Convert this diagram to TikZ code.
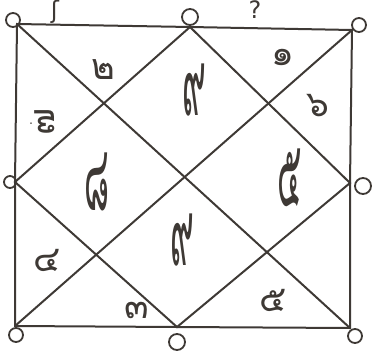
\documentclass[tikz,border=0pt]{standalone}
\usepackage{fontspec}
\newfontfamily\thaifont[Script=Thai]{Loma}
\newfontfamily\symfont{DejaVu Sans}
\definecolor{ink}{HTML}{3E3935}
\begin{document}
\begin{tikzpicture}[x=1pt,y=-1pt,
  edge/.style={draw=ink,line width=2pt,line cap=round},
  ring/.style={circle,draw=ink,line width=1.8pt,inner sep=0pt,minimum size=#1},
  digit/.style={text=ink,font=\thaifont\fontsize{36}{36}\selectfont,inner sep=0pt},
  tall/.style={text=ink,font=\thaifont\fontsize{36}{36}\selectfont,inner sep=0pt},
  topmark/.style={text=ink,font=\symfont\fontsize{24}{24}\selectfont,inner sep=0pt}]
\useasboundingbox (0,0) rectangle (374,353);
% vertices
\coordinate (TL) at (17,24);
\coordinate (TM) at (190,27);
\coordinate (TR) at (352,30);
\coordinate (LM) at (15,182);
\coordinate (RM) at (350,183);
\coordinate (BL) at (15,326);
\coordinate (BM) at (177,327);
\coordinate (BR) at (350,328);
% frame
\draw[edge] (TL) -- (TM) -- (TR) -- (RM) -- (BR) -- (BM) -- (BL) -- (LM) -- cycle;
% diagonals
\draw[edge] (TL) -- (BR);
\draw[edge] (TR) -- (BL);
% inner diamond
\draw[edge] (TM) -- (RM) -- (BM) -- (LM) -- cycle;
% rings
\node[ring=14pt] (cTL) at (13,20) {};
\node[ring=16pt] (cTM) at (190,17) {};
\node[ring=14pt] (cTR) at (359,25) {};
\node[ring=12pt] (cLM) at (10,182) {};
\node[ring=16pt] (cRM) at (363,186) {};
\node[ring=14pt] (cBL) at (16,335) {};
\node[ring=16pt] (cBM) at (177,342) {};
\node[ring=14pt] (cBR) at (355,336) {};
% outside marks
\node[topmark] (m1) at (55,12) {ʃ};
\node[topmark] (m2) at (255,10) {?};
% house digits
\node[digit] (d2) at (103,70) {๒};
\node[digit,rotate=90] (d7) at (45,122) {๗};
\node[text=ink,inner sep=0pt,font=\fontsize{20}{20}\selectfont] (dot) at (31,124) {.};
\node[digit] (d1) at (283,57) {๑};
\node[digit] (d6) at (318,106) {๖};
\node[digit] (d4) at (47,260) {๔};
\node[digit] (d3) at (137,310) {๓};
\node[digit] (d5) at (273,300) {๕};
% inner cells
\node[tall] (i1) at (194,90) {\scalebox{0.9}[2.6]{๙}};
\node[tall] (i2) at (97,182) {\scalebox{0.9}[2.6]{๘}};
\node[tall] (i3) at (182,240) {\scalebox{0.9}[2.6]{๙}};
\node[tall] (i4) at (290,178) {\scalebox{0.9}[2.6]{๕}};
\end{tikzpicture}
\end{document}
